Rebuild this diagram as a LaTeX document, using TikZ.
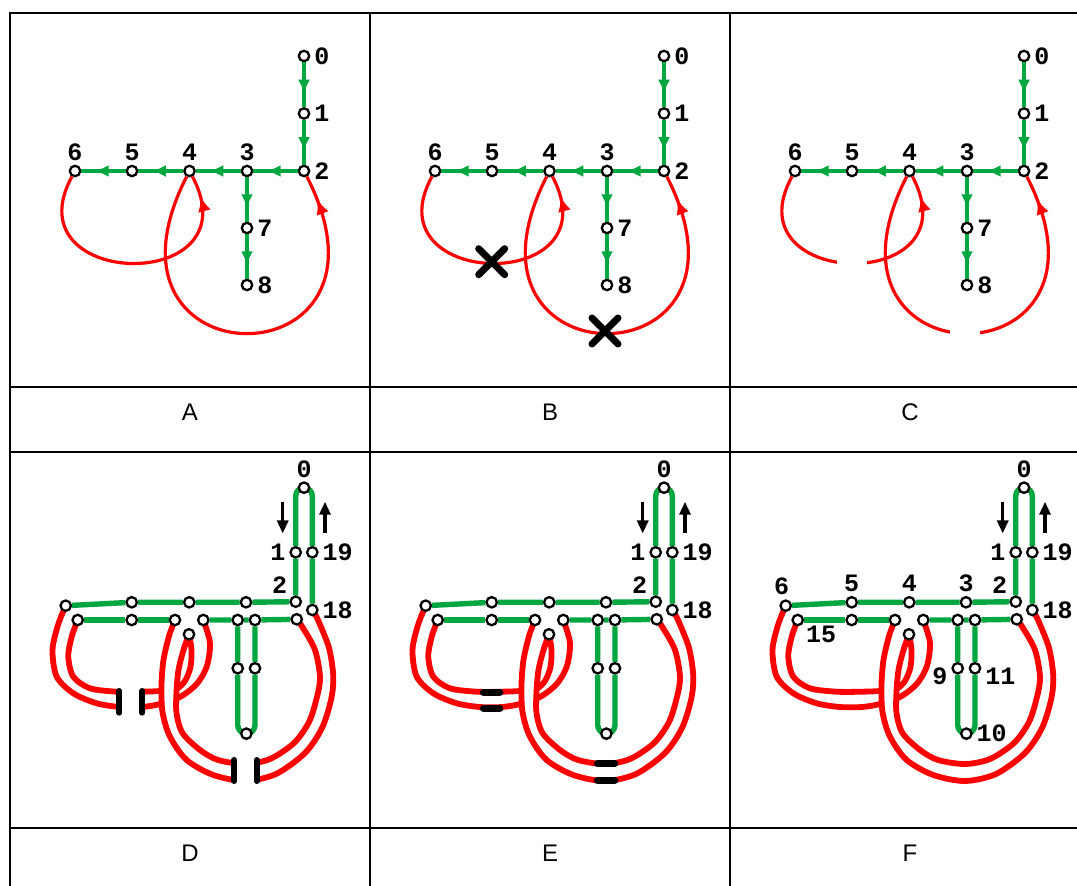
\documentclass[tikz,border=0pt]{standalone}
\usepackage{fontspec}
\setmainfont{Liberation Sans}
\newfontfamily\numfont{Liberation Mono}
\usetikzlibrary{arrows.meta, positioning, decorations.markings, backgrounds}
\definecolor{Green}{HTML}{00A640}
\definecolor{Red}  {HTML}{FF0000}
\tikzset{
  vtx/.style={circle, draw, fill=white, line width=1.15pt, inner sep=0pt, minimum size=5.2pt},
  lab/.style={font=\numfont\bfseries\fontsize{12.5}{13}\selectfont, inner sep=1.8pt},
  letter/.style={font=\fontsize{12}{14}\selectfont},
  grid/.style={line width=1.2pt},
  garr/.style={Green, line width=1.6pt, postaction=decorate,
               decoration={markings, mark=at position 0.7 with {\arrow{Latex[length=7pt,width=6pt]}}}},
  rarr/.style={Red, line width=1.6pt, postaction=decorate,
               decoration={markings, mark=at position #1 with {\arrow{Latex[length=7.5pt,width=6.5pt]}}}},
  gline/.style={Green, line width=2.7pt},
  rstrand/.style={Red, line width=2.9pt},
  band/.style={white, line width=8pt},
  dirarr/.style={-{Triangle[length=6.5pt,width=5.5pt]}, line width=1.7pt},
  xmark/.style={line width=3.5pt, line cap=round},
  cut/.style={line width=3pt, line cap=round},
  tape/.style={line width=3.6pt, line cap=round}
}

% tree with the two red chords (panels A-C)
\newcommand\treepanel{%
  \node[vtx, label={[lab]right:0}] (n0) at (304,-56) {};
  \node[vtx, label={[lab]right:1}] (n1) at (304,-113.5) {};
  \node[vtx, label={[lab]right:2}] (n2) at (304,-171) {};
  \node[vtx, label={[lab]above:3}] (n3) at (247,-171) {};
  \node[vtx, label={[lab]above:4}] (n4) at (189.5,-171) {};
  \node[vtx, label={[lab]above:5}] (n5) at (132,-171) {};
  \node[vtx, label={[lab]above:6}] (n6) at (75,-171) {};
  \node[vtx, label={[lab]right:7}] (n7) at (247,-228) {};
  \node[vtx, label={[lab]right:8}] (n8) at (247,-285) {};
  \draw[garr] (n0) -- (n1);
  \draw[garr] (n1) -- (n2);
  \draw[garr] (n2) -- (n3);
  \draw[garr] (n3) -- (n4);
  \draw[garr] (n4) -- (n5);
  \draw[garr] (n5) -- (n6);
  \draw[garr] (n3) -- (n7);
  \draw[garr] (n7) -- (n8);
  \draw[rarr=0.92] (n6) .. controls (10,-290) and (255,-295) .. (n4);
  \draw[rarr=0.94] (n4) .. controls (80,-386) and (414,-386) .. (n2);
}

% fattened tree (panels D-F)
\newcommand\ribbonnodes{%
  \node[vtx, label={[lab]above:0}] (d0) at (304,-487.7) {};
  \node[vtx, label={[lab]left:1}] (d1) at (295.7,-552.3) {};
  \node[vtx, label={[lab]right:19}] (d19) at (312.3,-552.3) {};
  \node[vtx, label={[lab]above left:2}] (d2) at (295.7,-601.7) {};
  \node[vtx, label={[lab]right:18}] (d18) at (312.3,-610) {};
  \node[vtx] (d3) at (246,-602.3) {};
  \node[vtx] (d4) at (189.3,-602.3) {};
  \node[vtx] (d5) at (131.7,-602.3) {};
  \node[vtx] (d6) at (65.7,-605.7) {};
  \node[vtx] (d15) at (77.7,-620) {};
  \node[vtx] (d16) at (131.7,-620) {};
  \node[vtx] (d17) at (175,-620) {};
  \node[vtx] (d14) at (189,-634.3) {};
  \node[vtx] (d7) at (203.3,-620) {};
  \node[vtx] (d8) at (237.7,-620) {};
  \node[vtx] (d12) at (255,-620) {};
  \node[vtx] (d13) at (296.7,-619.3) {};
  \node[vtx] (d9) at (237.7,-668.3) {};
  \node[vtx] (d11) at (255,-668.3) {};
  \node[vtx] (d10) at (246.35,-733.65) {};
  \draw[dirarr] (282.7,-501.7) -- (282.7,-533.5);
  \draw[dirarr] (325,-533.5) -- (325,-501.7);
}
\newcommand\ribbonred{%
  % chord 6-4, passes under chord 4-2
  \draw[rstrand] plot[smooth] coordinates {(d6) (58,-625) (52.5,-650) (56.7,-676.7) (73.3,-693.3)
    (96.7,-703.3) (120,-707) (142,-707) (160,-704) (180,-697) (196.7,-684) (206.7,-666.7) (210,-643) (d7)};
  \draw[rstrand] plot[smooth] coordinates {(d15) (71.7,-636.7) (68.3,-656.7) (73.3,-676.7) (90,-688.3)
    (116.7,-691.7) (142,-691.7) (160,-691) (176,-689) (185,-681) (190.5,-667) (191.5,-650) (d14)};
  % chord 4-2
  \draw[band] plot[smooth] coordinates {(182,-627) (176.25,-643) (171,-665) (169,-688.5) (169.5,-712.5)
    (176.25,-734.85) (193.35,-755) (215.65,-767.5) (245,-772.5) (273,-766.5) (299.5,-748) (315.5,-725)
    (324,-698.5) (326.65,-676.7) (322,-649) (310.5,-624) (304.5,-614.65)};
  \draw[rstrand] plot[smooth] coordinates {(d17) (169,-636) (163.5,-660) (161.5,-685) (162.5,-712)
    (170,-736.7) (186.7,-760) (213.3,-775) (245,-781) (276,-774) (305,-753) (322,-728) (331,-700)
    (333.3,-676.7) (329,-648) (318,-620) (d18)};
  \draw[rstrand] plot[smooth] coordinates {(d14) (183.5,-650) (178.5,-670) (176.5,-692) (176.5,-713)
    (182.5,-733) (200,-750) (218,-760) (245,-764) (270,-759) (294,-743) (309,-722) (317,-697)
    (320,-676.7) (315,-650) (303,-628) (d13)};
}
\newcommand\ribbongreen{%
  \draw[gline] (d6) -- (d5) -- (d4) -- (d3) -- (d2) -- (d1) -- (295.7,-496)
    arc[start angle=180, end angle=0, radius=8.3] -- (d19) -- (d18);
  \draw[gline] (d15) -- (d16) -- (d17);
  \draw[gline] (d7) -- (d8) -- (d12) -- (d13);
  \draw[gline] (d8) -- (d9) -- (237.7,-725)
    arc[start angle=180, end angle=360, radius=8.65] -- (d11) -- (d12);
}

\begin{document}
\begin{tikzpicture}[x=0.5pt, y=0.5pt]
  \useasboundingbox (0,0) rectangle (1077,-886);

  % table
  \draw[grid] (10,-886) -- (10,-13) -- (1077,-13);
  \foreach \x in {370,730} \draw[grid] (\x,-13) -- (\x,-886);
  \foreach \y in {387,452,828} \draw[grid] (10,-\y) -- (1077,-\y);
  \foreach \x/\t in {190/A,550/B,910/C} \node[letter] (cap\t) at (\x,-412) {\t};
  \foreach \x/\t in {190/D,550/E,910/F} \node[letter] (cap\t) at (\x,-853) {\t};

  % A
  \begin{scope}[name prefix=A-]
    \treepanel
  \end{scope}
  % B
  \begin{scope}[shift={(360,0)}, name prefix=B-]
    \treepanel
    \draw[xmark] (118.7,-248.7) -- (144.7,-274.7) (118.7,-274.7) -- (144.7,-248.7);
    \draw[xmark] (232,-318) -- (258,-344) (232,-344) -- (258,-318);
  \end{scope}
  % C
  \begin{scope}[shift={(720,0)}, name prefix=C-]
    \treepanel
    \fill[white] (117,-246) rectangle (147,-280);
    \fill[white] (230,-316) rectangle (260,-348);
  \end{scope}

  % D
  \begin{scope}[name prefix=D-]
    \ribbonnodes
    \begin{scope}[on background layer]
      \ribbonred
      \fill[white] (119.3,-678) rectangle (142.3,-722);
      \fill[white] (234.3,-748) rectangle (256.7,-792);
      \ribbongreen
    \end{scope}
    \draw[cut] (119.3,-691) -- (119.3,-712.7);
    \draw[cut] (142.3,-691) -- (142.3,-712.7);
    \draw[cut] (234.3,-760) -- (234.3,-781);
    \draw[cut] (256.7,-760) -- (256.7,-781);
  \end{scope}
  % E
  \begin{scope}[shift={(360,0)}, name prefix=E-]
    \ribbonnodes
    \begin{scope}[on background layer]
      \ribbonred
      \ribbongreen
    \end{scope}
    \draw[tape] (123.5,-692.3) -- (139.8,-692.3);
    \draw[tape] (123.5,-708.5) -- (139.8,-708.5);
    \draw[tape] (237.5,-763.5) -- (254.8,-763.5);
    \draw[tape] (237.5,-780.5) -- (254.8,-780.5);
  \end{scope}
  % F
  \begin{scope}[shift={(720,0)}, name prefix=F-]
    \ribbonnodes
    \begin{scope}[on background layer]
      \ribbonred
      \ribbongreen
    \end{scope}
    \node[lab, above=0.5pt of d6, xshift=-2pt] (l6) {6};
    \node[lab, above=0pt of d5] (l5) {5};
    \node[lab, above=0pt of d4] (l4) {4};
    \node[lab, above=0pt of d3] (l3) {3};
    \node[lab, below right=-1pt and 0pt of d15] (l15) {15};
    \node[lab, left=0pt of d9, yshift=-4.2pt] (l9) {9};
    \node[lab, right=0pt of d11, yshift=-4.2pt] (l11) {11};
    \node[lab, right=0pt of d10] (l10) {10};
  \end{scope}
\end{tikzpicture}
\end{document}
